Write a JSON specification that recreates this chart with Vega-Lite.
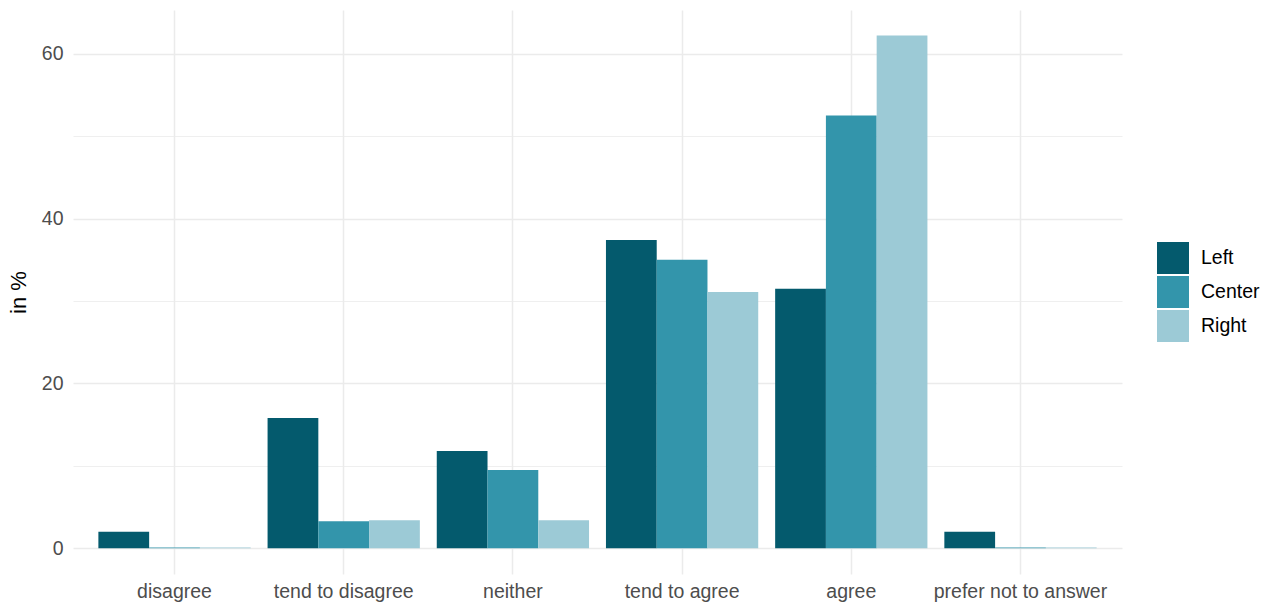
{
  "$schema": "https://vega.github.io/schema/vega-lite/v6.json",
  "width": 1049,
  "height": 564,
  "autosize": "none",
  "padding": {"left": 73, "top": 10, "right": 149, "bottom": 33},
  "background": "white",
  "config": {
    "view": {"stroke": null},
    "font": "Liberation Sans"
  },
  "data": {
    "values": [
      {"answer": "disagree", "group": "Left", "pct": 2.0},
      {"answer": "disagree", "group": "Center", "pct": 0.1},
      {"answer": "disagree", "group": "Right", "pct": 0.1},
      {"answer": "tend to disagree", "group": "Left", "pct": 15.8},
      {"answer": "tend to disagree", "group": "Center", "pct": 3.3},
      {"answer": "tend to disagree", "group": "Right", "pct": 3.4},
      {"answer": "neither", "group": "Left", "pct": 11.8},
      {"answer": "neither", "group": "Center", "pct": 9.5},
      {"answer": "neither", "group": "Right", "pct": 3.4},
      {"answer": "tend to agree", "group": "Left", "pct": 37.4},
      {"answer": "tend to agree", "group": "Center", "pct": 35.0},
      {"answer": "tend to agree", "group": "Right", "pct": 31.1},
      {"answer": "agree", "group": "Left", "pct": 31.5},
      {"answer": "agree", "group": "Center", "pct": 52.5},
      {"answer": "agree", "group": "Right", "pct": 62.2},
      {"answer": "prefer not to answer", "group": "Left", "pct": 2.0},
      {"answer": "prefer not to answer", "group": "Center", "pct": 0.1},
      {"answer": "prefer not to answer", "group": "Right", "pct": 0.1}
    ]
  },
  "mark": {"type": "bar"},
  "encoding": {
    "x": {
      "field": "answer",
      "type": "nominal",
      "sort": ["disagree", "tend to disagree", "neither", "tend to agree", "agree", "prefer not to answer"],
      "scale": {"paddingInner": 0.1, "paddingOuter": 0.15},
      "axis": {
        "title": null,
        "labelAngle": 0,
        "bandPosition": 0.5,
        "domain": false,
        "ticks": false,
        "labelPadding": 8,
        "labelFontSize": 19.5,
        "labelColor": "#4d4d4d",
        "grid": true,
        "gridColor": "#ebebeb",
        "gridWidth": 1.5
      }
    },
    "xOffset": {
      "field": "group",
      "type": "nominal",
      "sort": ["Left", "Center", "Right"],
      "scale": {"paddingInner": 0, "paddingOuter": 0}
    },
    "y": {
      "field": "pct",
      "type": "quantitative",
      "scale": {"domain": [-3.11, 65.3], "nice": false, "zero": false},
      "axis": {
        "title": "in %",
        "titleFontSize": 22,
        "titleFontWeight": "normal",
        "titleColor": "#000000",
        "titlePadding": 11,
        "values": [0, 10, 20, 30, 40, 50, 60],
        "labelExpr": "datum.value % 20 === 0 ? datum.label : ''",
        "domain": false,
        "ticks": false,
        "labelPadding": 10,
        "labelFontSize": 19.5,
        "labelColor": "#4d4d4d",
        "grid": true,
        "gridColor": "#ebebeb",
        "gridWidth": {"condition": {"test": "datum.value % 20 === 0", "value": 1.5}, "value": 0.8}
      }
    },
    "color": {
      "field": "group",
      "type": "nominal",
      "sort": ["Left", "Center", "Right"],
      "scale": {"domain": ["Left", "Center", "Right"], "range": ["#045a6d", "#3395ab", "#9ccad6"]},
      "legend": {
        "title": null,
        "orient": "none",
        "legendX": 1084,
        "legendY": 232,
        "symbolType": "square",
        "symbolSize": 1024,
        "symbolStrokeWidth": 0,
        "symbolOpacity": 1,
        "rowPadding": 2,
        "labelFontSize": 19.5,
        "labelColor": "#000000",
        "labelOffset": 12
      }
    }
  }
}
